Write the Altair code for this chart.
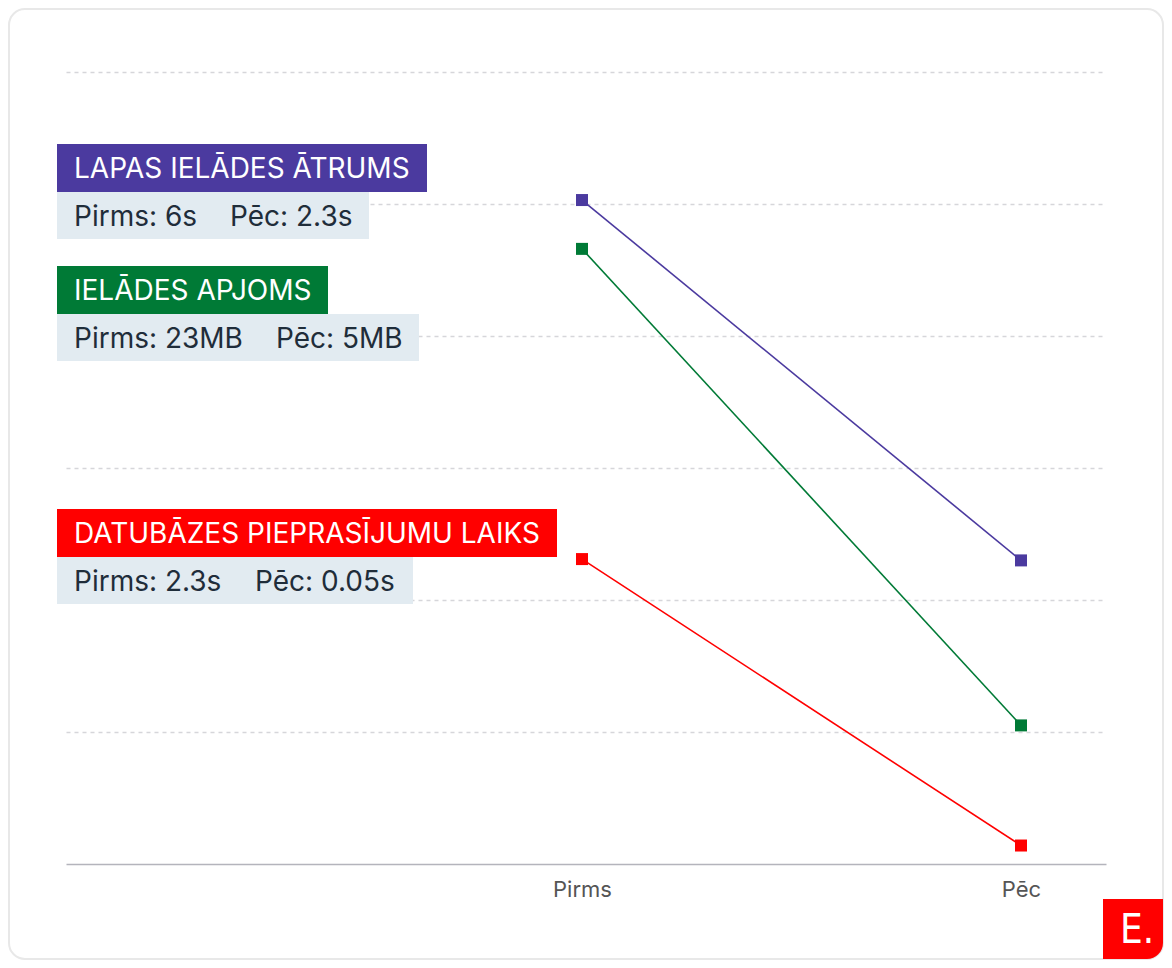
import json
import altair as alt
import pandas as pd

# ---- data ----
series = ["LAPAS IELĀDES ĀTRUMS", "IELĀDES APJOMS", "DATUBĀZES PIEPRASĪJUMU LAIKS"]
stages = ["Pirms", "Pēc"]
pirms_values = [5.03, 4.66, 2.31]
pec_values = [2.30, 1.05, 0.14]
series_colors = ["#4b3a9f", "#007a36", "#ff0000"]
pirms_labels = ["Pirms: 6s", "Pirms: 23MB", "Pirms: 2.3s"]
pec_labels = ["Pēc: 2.3s", "Pēc: 5MB", "Pēc: 0.05s"]
grid_values = [1, 2, 3, 4, 5, 6]
logo_text = ["E."]

# ---- layout (pixels, relative to plot area) ----
W, H = 1040, 792
FONT = "Inter"
X_DOMAIN = [-516 / 439, 524 / 439]   # places Pirms / Pēc where the reference has them
header_top = [72, 194, 437]
header_h = 48
sub_h = 47
header_right = [361, 262, 491]
sub_right = [303, 353, 347]
pec_x = [164, 210, 189]
box_left = -9
text_left = 8

rows = []
for s, a, b in zip(series, pirms_values, pec_values):
    rows.append({"series": s, "stage": 0, "value": a})
    rows.append({"series": s, "stage": 1, "value": b})
df = pd.DataFrame(rows)

rect_rows, head_rows, sub_rows = [], [], []
for i, s in enumerate(series):
    t = header_top[i]
    rect_rows.append({"x": box_left, "x2": header_right[i], "y": t, "y2": t + header_h, "fill": series_colors[i]})
    rect_rows.append({"x": box_left, "x2": sub_right[i], "y": t + header_h, "y2": t + header_h + sub_h, "fill": "#e2ebf1"})
    head_rows.append({"tx": text_left, "ty": t + header_h / 2 + 2, "label": s})
    sub_rows.append({"tx": text_left, "ty": t + header_h + sub_h / 2 + 2.5, "label": pirms_labels[i]})
    sub_rows.append({"tx": pec_x[i], "ty": t + header_h + sub_h / 2 + 2.5, "label": pec_labels[i]})
rect_df = pd.DataFrame(rect_rows)
head_df = pd.DataFrame(head_rows)
sub_df = pd.DataFrame(sub_rows)

one = pd.DataFrame({"a": [0]})

card = alt.Chart(one).mark_rect(
    fill=None, stroke="#e8e8e8", strokeWidth=2, cornerRadius=16
).encode(x=alt.value(-57), x2=alt.value(1097), y=alt.value(-63), y2=alt.value(887))

logo = alt.Chart(one).mark_rect(
    fill="#ff0000", cornerRadiusBottomRight=16
).encode(x=alt.value(1037), x2=alt.value(1097), y=alt.value(827), y2=alt.value(887))

logo_txt = alt.Chart(pd.DataFrame({"t": logo_text})).mark_text(
    font="DejaVu Sans Condensed, Liberation Sans Narrow, Roboto Condensed, sans-serif",
    fontSize=40, color="white", align="center", baseline="middle"
).encode(x=alt.value(1071), y=alt.value(859), text="t:N")

label_expr = json.dumps(stages, ensure_ascii=False) + "[datum.value]"
xenc = alt.X(
    "stage:Q",
    scale=alt.Scale(domain=X_DOMAIN, nice=False, zero=False),
    axis=alt.Axis(title=None, values=[0, 1], labelExpr=label_expr, domain=True,
                  domainColor="#b4b4bc", domainWidth=1.6, ticks=False, labelAngle=0,
                  labelFontSize=22, labelColor="#555555", labelFont=FONT, labelPadding=15,
                  grid=False, labelFlush=False),
)
yenc = alt.Y(
    "value:Q",
    scale=alt.Scale(domain=[0, 6], nice=False, zero=True),
    axis=alt.Axis(title=None, values=grid_values, labels=False, ticks=False, domain=False,
                  grid=True, gridDash=[4, 4], gridColor="#d6d6da", gridWidth=1.3),
)
color = alt.Color("series:N", scale=alt.Scale(domain=series, range=series_colors), legend=None)

lines = alt.Chart(df).mark_line(strokeWidth=1.6).encode(x=xenc, y=yenc, color=color, detail="series:N")
points = alt.Chart(df).mark_point(shape="square", size=144, filled=True, opacity=1).encode(
    x=xenc, y=yenc, color=color)

boxes = alt.Chart(rect_df).mark_rect().encode(
    x=alt.X("x:Q", scale=None, axis=None), x2="x2:Q",
    y=alt.Y("y:Q", scale=None, axis=None), y2="y2:Q",
    fill=alt.Fill("fill:N", scale=None),
)
heads = alt.Chart(head_df).mark_text(
    align="left", baseline="middle", font=FONT, fontSize=28, color="white"
).encode(x=alt.X("tx:Q", scale=None, axis=None), y=alt.Y("ty:Q", scale=None, axis=None), text="label:N")
subs = alt.Chart(sub_df).mark_text(
    align="left", baseline="middle", font=FONT, fontSize=28, color="#1f2d3a"
).encode(x=alt.X("tx:Q", scale=None, axis=None), y=alt.Y("ty:Q", scale=None, axis=None), text="label:N")

chart = alt.layer(card, lines, points, boxes, heads, subs, logo, logo_txt).properties(
    width=W, height=H,
    autosize=alt.AutoSizeParams(type="none"),
    padding={"left": 58, "top": 64, "right": 58, "bottom": 96},
    background="white",
).configure_view(stroke=None)

chart.save("out.html", embed_options={"renderer": "svg", "actions": False})
